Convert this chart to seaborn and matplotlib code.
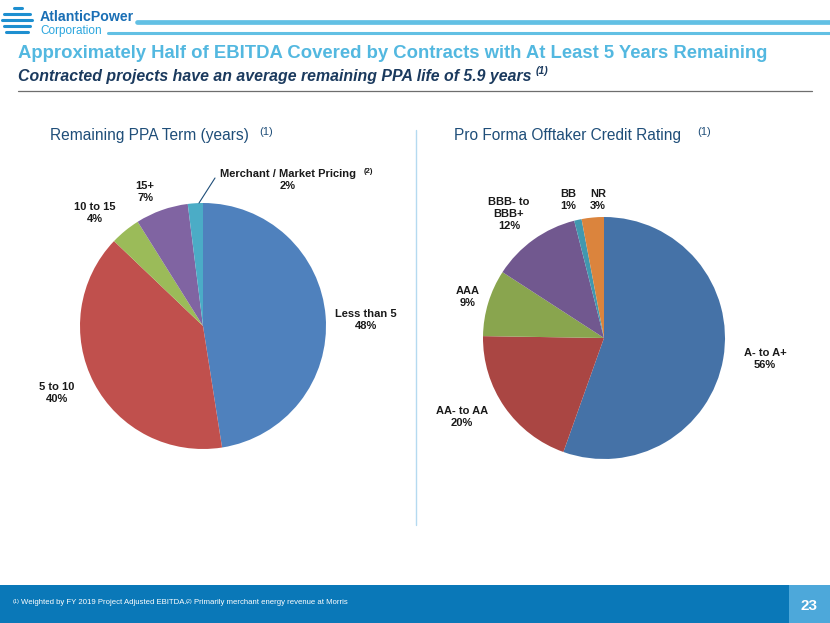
import matplotlib
matplotlib.use("Agg")
import matplotlib.pyplot as plt
from matplotlib.lines import Line2D
from matplotlib.patches import Rectangle
import seaborn as sns

# data
term_labels = ["Less than 5", "5 to 10", "10 to 15", "15+", "Merchant / Market Pricing"]
term_values = [48, 40, 4, 7, 2]
rating_labels = ["A- to A+", "AA- to AA", "AAA", "BBB- to\nBBB+", "BB", "NR"]
rating_values = [56, 20, 9, 12, 1, 3]

term_colors = ["#4F81BD", "#C0504D", "#9BBB59", "#8064A2", "#4BACC6"]
rating_colors = ["#4572A7", "#AA4643", "#89A54E", "#71588F", "#4198AF", "#DB843D"]

sns.set_theme(style="white")
plt.rcParams["font.family"] = ["Liberation Sans", "DejaVu Sans"]

W, H = 830, 623
fig = plt.figure(figsize=(W / 100, H / 100), dpi=100)


def fx(x):
    return x / W


def fy(y):
    return 1 - y / H


def line(x0, x1, y0, y1, color, lw):
    fig.add_artist(Line2D([fx(x0), fx(x1)], [fy(y0), fy(y1)], color=color, lw=lw,
                          transform=fig.transFigure))


# header / logo
fig.text(fx(40), fy(17), "AtlanticPower", fontsize=10.2, fontweight="bold", color="#1A6FB5",
         va="center", ha="left")
fig.text(fx(40), fy(31), "Corporation", fontsize=8.5, color="#2BA6DE", va="center", ha="left")
for yy, x0, x1 in [(8, 14, 22), (14, 4, 30), (20, 2, 32), (26, 4, 30), (32, 6, 28)]:
    line(x0, x1, yy, yy, "#1E8FD0", 2.2)
line(137, 830, 22, 22, "#62C0E4", 3.4)
line(108, 830, 33, 33, "#62C0E4", 2.2)

fig.text(fx(18), fy(53), "Approximately Half of EBITDA Covered by Contracts with At Least 5 Years Remaining",
         fontsize=13.3, fontweight="bold", color="#53B8E0", va="center", ha="left")
fig.text(fx(18), fy(76), "Contracted projects have an average remaining PPA life of 5.9 years",
         fontsize=11.4, fontweight="bold", style="italic", color="#1B3A5E", va="center", ha="left")
fig.text(fx(536), fy(71), "(1)", fontsize=7.5, fontweight="bold", style="italic", color="#1B3A5E",
         va="center", ha="left")
line(18, 812, 91, 91, "#6E6E6E", 0.9)

# subheadings
fig.text(fx(50), fy(135), "Remaining PPA Term (years)", fontsize=11.2, color="#1F4E79", va="center", ha="left")
fig.text(fx(259), fy(132), "(1)", fontsize=8, color="#1F4E79", va="center", ha="left")
fig.text(fx(454), fy(135), "Pro Forma Offtaker Credit Rating", fontsize=11.2, color="#1F4E79",
         va="center", ha="left")
fig.text(fx(697), fy(132), "(1)", fontsize=8, color="#1F4E79", va="center", ha="left")

line(416, 416, 130, 525, "#B5DAF0", 1.0)

# pies
ax1 = fig.add_axes([fx(80), fy(449), 246 / W, 246 / H])
ax1.pie(term_values, colors=term_colors, startangle=90, counterclock=False,
        wedgeprops=dict(linewidth=0))
ax1.set_xlim(-1, 1)
ax1.set_ylim(-1, 1)
ax1.set_aspect("equal")
ax1.axis("off")

ax2 = fig.add_axes([fx(483), fy(459), 242 / W, 242 / H])
ax2.pie(rating_values, colors=rating_colors, startangle=90, counterclock=False,
        wedgeprops=dict(linewidth=0))
ax2.set_xlim(-1, 1)
ax2.set_ylim(-1, 1)
ax2.set_aspect("equal")
ax2.axis("off")

lab = dict(fontsize=8, fontweight="bold", color="#1A1A1A", ha="center", va="center", linespacing=1.3)
term_pos = [(366, 320), (57, 393), (95, 213), (145, 192), (288, 180)]
for (x, y), name, v in zip(term_pos, term_labels, term_values):
    fig.text(fx(x), fy(y), f"{name}\n{v}%", **lab)
fig.text(fx(368), fy(171), "(2)", fontsize=5.5, fontweight="bold", color="#1A1A1A", ha="center", va="center")
line(215, 199, 178, 203, "#1F4E79", 0.8)

rating_pos = [(765, 359), (462, 417), (468, 297), (509, 214), (568, 200), (598, 200)]
for (x, y), name, v in zip(rating_pos, rating_labels, rating_values):
    fig.text(fx(x), fy(y), f"{name}\n{v}%", **lab)

# footer
fig.add_artist(Rectangle((0, 0), 1, 38 / H, transform=fig.transFigure, color="#0A78B8", lw=0))
fig.add_artist(Rectangle((fx(789), 0), 41 / W, 38 / H, transform=fig.transFigure, color="#4DA8DA", lw=0))
fig.text(fx(809), fy(606), "23", fontsize=11, fontweight="bold", color="white", ha="center", va="center")
fig.text(fx(13), fy(601), "(1)", fontsize=4, color="white", ha="left", va="center")
fig.text(fx(21), fy(603), "Weighted by FY 2019 Project Adjusted EBITDA.", fontsize=5.6, color="white",
         ha="left", va="center")
fig.text(fx(186), fy(601), "(2)", fontsize=4, color="white", ha="left", va="center")
fig.text(fx(194), fy(603), "Primarily merchant energy revenue at Morris", fontsize=5.6, color="white",
         ha="left", va="center")

fig.savefig("out.png", dpi=100)
